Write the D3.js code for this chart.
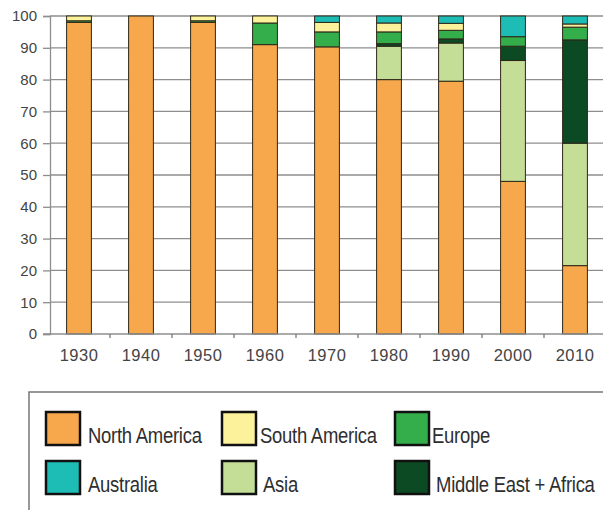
<!DOCTYPE html>
<html>
<head>
<meta charset="utf-8">
<script src="https://cdn.jsdelivr.net/npm/d3@7"></script>
<style>
  html, body { margin: 0; padding: 0; background: #fff; }
  svg { display: block; }
</style>
</head>
<body>
<svg id="chart" width="603" height="510"></svg>
<script>
// Decades on the x axis
const years = ["1930", "1940", "1950", "1960", "1970", "1980", "1990", "2000", "2010"];

// Share (%) per region, stacked bottom to top in this order
const regions = ["North America", "Asia", "Middle East + Africa", "Europe", "South America", "Australia"];
const northAmerica = [98, 100, 98, 91, 90.3, 80, 79.5, 48, 21.5];
const asia         = [0, 0, 0, 0, 0, 10.5, 12, 38, 38.5];
const middleEast   = [0, 0, 0, 0, 0, 0.8, 1.3, 4.5, 32.5];
const europe       = [0.5, 0, 0.5, 6.8, 4.7, 3.7, 2.7, 3, 4];
const southAmerica = [1.5, 0, 1.5, 2.2, 3, 2.8, 2.2, 0, 1];
const australia    = [0, 0, 0, 0, 2, 2.2, 2.3, 6.5, 2.5];

const yTicks = [0, 10, 20, 30, 40, 50, 60, 70, 80, 90, 100];

const colors = {
  "North America": "#f7a84c",
  "South America": "#fdf29c",
  "Europe": "#33ae4a",
  "Australia": "#1dbdb6",
  "Asia": "#c4de98",
  "Middle East + Africa": "#0b4a23"
};

// Legend layout order (two rows of three)
const legendRows = [
  ["North America", "South America", "Europe"],
  ["Australia", "Asia", "Middle East + Africa"]
];

const series = {
  "North America": northAmerica,
  "Asia": asia,
  "Middle East + Africa": middleEast,
  "Europe": europe,
  "South America": southAmerica,
  "Australia": australia
};

const table = years.map((yr, i) => {
  const row = { year: yr };
  regions.forEach(r => { row[r] = series[r][i]; });
  return row;
});

const svg = d3.select("#chart");

const x = d3.scaleBand()
  .domain(years)
  .range([48, 606])
  .paddingInner(0.6)
  .paddingOuter(0.3);

const y = d3.scaleLinear().domain([0, 100]).range([334, 16]);

// Horizontal gridlines
svg.append("g")
  .selectAll("line")
  .data(yTicks.filter(d => d > 0))
  .join("line")
  .attr("x1", 50).attr("x2", 603)
  .attr("y1", d => y(d)).attr("y2", d => y(d))
  .attr("stroke", "#8e8e8e")
  .attr("stroke-width", 1.3);

// Y axis
const yAxis = svg.append("g")
  .attr("transform", "translate(50,0)")
  .call(d3.axisLeft(y).tickValues(yTicks).tickSize(7).tickPadding(6));
yAxis.select(".domain").attr("stroke", "#8e8e8e").attr("stroke-width", 1.3);
yAxis.selectAll(".tick line").attr("stroke", "#8e8e8e").attr("stroke-width", 1.3);
yAxis.selectAll("text")
  .attr("fill", "#444")
  .style("font-family", "Arial, 'Liberation Sans', sans-serif")
  .style("font-size", "15px");

// Stacked bars
const stack = d3.stack().keys(regions)(table);

svg.append("g")
  .selectAll("g")
  .data(stack)
  .join("g")
  .attr("fill", d => colors[d.key])
  .selectAll("rect")
  .data(d => d.filter(s => s[1] - s[0] > 0))
  .join("rect")
  .attr("x", d => x(d.data.year))
  .attr("width", x.bandwidth())
  .attr("y", d => y(d[1]))
  .attr("height", d => y(d[0]) - y(d[1]))
  .attr("stroke", "#2e2719")
  .attr("stroke-width", 1);

// X axis baseline with small ticks between categories
const xAxis = svg.append("g");
xAxis.append("line")
  .attr("x1", 43).attr("x2", 603)
  .attr("y1", y(0)).attr("y2", y(0))
  .attr("stroke", "#8e8e8e").attr("stroke-width", 1.3);
xAxis.selectAll("line.sep")
  .data(years.slice(1))
  .join("line")
  .attr("class", "sep")
  .attr("x1", d => x(d) - x.step() * x.paddingInner() / 2)
  .attr("x2", d => x(d) - x.step() * x.paddingInner() / 2)
  .attr("y1", y(0)).attr("y2", y(0) + 4)
  .attr("stroke", "#777").attr("stroke-width", 1.3);
xAxis.selectAll("text")
  .data(years)
  .join("text")
  .attr("x", d => x(d) + x.bandwidth() / 2)
  .attr("y", 361)
  .attr("text-anchor", "middle")
  .attr("fill", "#444")
  .style("font-family", "Arial, 'Liberation Sans', sans-serif")
  .style("font-size", "16.5px")
  .style("letter-spacing", "0.5px")
  .text(d => d);

// Legend box
const legend = svg.append("g");
legend.append("rect")
  .attr("x", 29).attr("y", 392)
  .attr("width", 600).attr("height", 140)
  .attr("fill", "#fff")
  .attr("stroke", "#777")
  .attr("stroke-width", 1.5);

const colX = [45, 221, 394];
const rowY = [411, 460];
const labelDx = [[43, 39, 38], [43, 42, 42]];
legendRows.forEach((row, ri) => {
  row.forEach((name, ci) => {
    const g = legend.append("g").attr("transform", `translate(${colX[ci]},${rowY[ri]})`);
    g.append("rect")
      .attr("x", 1).attr("y", 1)
      .attr("width", 34).attr("height", 33)
      .attr("fill", colors[name])
      .attr("stroke", "#111")
      .attr("stroke-width", 2.5);
    // condensed label: horizontally squeezed sans
    g.append("g")
      .attr("transform", `translate(${labelDx[ri][ci]},32) scale(0.84,1)`)
      .append("text")
      .attr("fill", "#2e2e2e")
      .style("font-family", "Arial, 'Liberation Sans', sans-serif")
      .style("font-size", "22px")
      .style("letter-spacing", "-0.3px")
      .text(name);
  });
});
</script>
</body>
</html>
